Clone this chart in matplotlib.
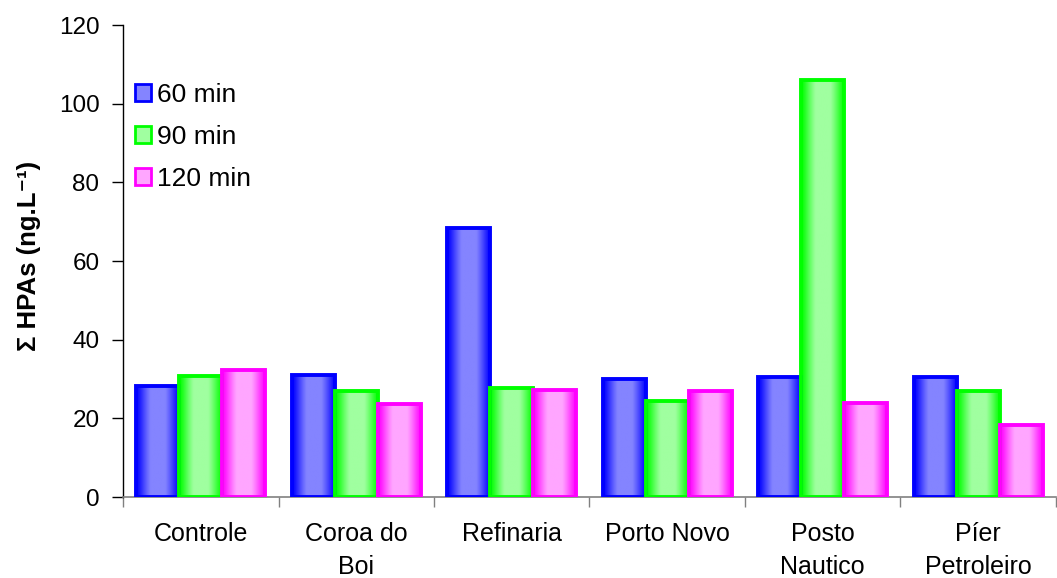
import numpy as np
import matplotlib.pyplot as plt
from matplotlib.patches import Patch
from matplotlib.colors import to_rgb

plt.rcParams['font.family'] = ['Liberation Sans', 'DejaVu Sans']

categories = ["Controle", "Coroa do\nBoi", "Refinaria", "Porto Novo", "Posto\nNautico", "Píer\nPetroleiro"]
series_labels = ["60 min", "90 min", "120 min"]
v60 = [28.2, 31.0, 68.4, 30.0, 30.5, 30.5]
v90 = [30.8, 27.0, 27.7, 24.4, 106.0, 27.0]
v120 = [32.3, 23.6, 27.2, 27.0, 23.9, 18.3]
yticks = [0, 20, 40, 60, 80, 100, 120]

series = [v60, v90, v120]
edge_colors = ["#0000ff", "#00ff00", "#ff00ff"]
light_colors = ["#8484ff", "#a0ffa0", "#ffa6ff"]

fig = plt.figure(figsize=(10.57, 5.78), dpi=100)
ax = fig.add_axes([0.1164, 0.1401, 0.8826, 0.8166])

width = 0.277
x = np.arange(len(categories))

# horizontal shading profile: saturated at the sides, light near the middle
t = np.linspace(0, 1, 200)
w = np.clip(1.15 * np.sin(np.pi * t), 0, 1) ** 1.3


def gradient_for(edge, light):
    e = np.array(to_rgb(edge))
    l = np.array(to_rgb(light))
    g = e[None, :] * (1 - w[:, None]) + l[None, :] * w[:, None]
    return g[None, :, :]


for k, (vals, ec, lc) in enumerate(zip(series, edge_colors, light_colors)):
    pos = x + (k - 1) * width
    bars = ax.bar(pos, vals, width=width, facecolor='none', edgecolor=ec,
                  linewidth=2.8, zorder=3)
    grad = gradient_for(ec, lc)
    for b in bars:
        x0, y0 = b.get_x(), b.get_y()
        img = ax.imshow(grad, extent=[x0, x0 + b.get_width(), y0, y0 + b.get_height()],
                        aspect='auto', interpolation='bilinear', zorder=2)
        img.set_clip_path(b)

ax.set_xlim(-0.5, len(categories) - 0.5)
ax.set_ylim(0, 120)
ax.set_yticks(yticks)
ax.set_yticklabels([str(v) for v in yticks], fontsize=17.5)

ax.set_xticks(x)
ax.set_xticklabels(categories, fontsize=18, linespacing=1.45)
ax.tick_params(axis='x', length=0, pad=18)
ax.set_xticks(np.arange(len(categories) + 1) - 0.5, minor=True)
ax.tick_params(axis='x', which='minor', length=7, width=1, color='#808080')
ax.tick_params(axis='y', length=8, width=1, pad=9)

for s in ['top', 'right']:
    ax.spines[s].set_visible(False)
ax.spines['bottom'].set_color('#808080')
ax.spines['bottom'].set_linewidth(1.2)
ax.spines['left'].set_linewidth(1)

ax.set_ylabel("Σ HPAs (ng.L⁻¹)", fontsize=18.5, fontweight='bold')
ax.yaxis.set_label_coords(-0.088, 0.51)

handles = [Patch(facecolor=lc, edgecolor=ec, linewidth=2, label=lab)
           for lab, ec, lc in zip(series_labels, edge_colors, light_colors)]
ax.legend(handles=handles, loc='upper left', bbox_to_anchor=(0.0128, 0.877),
          frameon=False, fontsize=19, handlelength=0.62, handleheight=0.62,
          handletextpad=0.2, labelspacing=0.68, borderpad=0, borderaxespad=0)

fig.savefig("out.png", dpi=100)
